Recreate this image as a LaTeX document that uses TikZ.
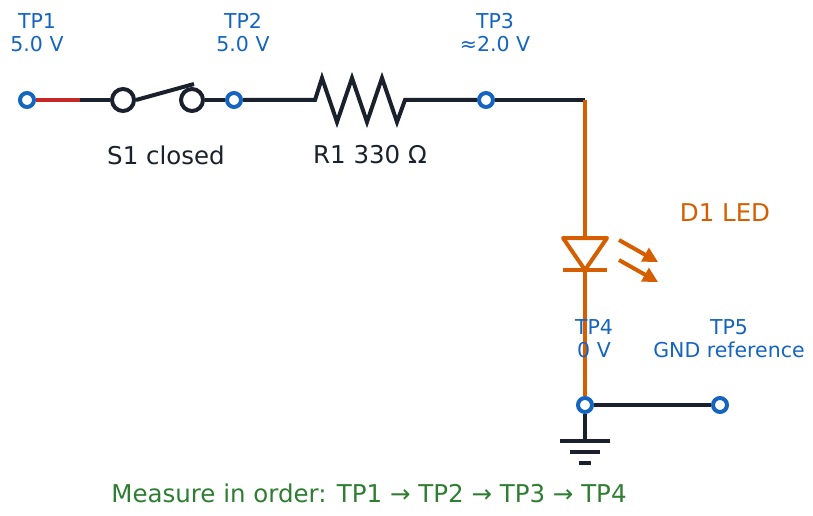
\documentclass[tikz,border=0pt]{standalone}
\usepackage{fontspec}
\setmainfont{DejaVu Sans}
\usetikzlibrary{arrows.meta}
\definecolor{tpblue}{RGB}{21,101,192}
\definecolor{wiredark}{RGB}{26,32,44}
\definecolor{ledorange}{RGB}{213,94,0}
\definecolor{wirered}{RGB}{198,40,40}
\definecolor{notegreen}{RGB}{46,125,50}
\tikzset{every picture/.style={line width=4pt}}
\tikzset{
  tp/.style={circle,draw=tpblue,fill=white,line width=4pt,inner sep=0pt,minimum size=14pt},
  tplabel/.style={text=tpblue,font=\fontsize{20.5}{23}\selectfont,align=center},
  wire/.style={draw=wiredark},
  led/.style={draw=ledorange}
}

\begin{document}
\begin{tikzpicture}[x=1pt,y=1pt,yscale=-1,xscale=1]
\useasboundingbox (0,0) rectangle (813,516);

%Test points
\node[tp] (tp1) at (27,100) {};
\node[tp] (tp2) at (234,100) {};
\node[tp] (tp3) at (486,100) {};
\node[tp] (tp4) at (585,405) {};
\node[tp] (tp5) at (720,405) {};
\coordinate (redend) at (80,100);
\coordinate (corner) at (585,100);
\coordinate (ledtop) at (585,238);
\coordinate (ledbot) at (585,270);
\coordinate (gnd) at (585,441);

%Switch
\node[circle,draw=wiredark,fill=white,inner sep=0pt,minimum size=22pt] (s1a) at (123,100) {};
\node[circle,draw=wiredark,fill=white,inner sep=0pt,minimum size=22pt] (s1b) at (192,100) {};

%Wires
\draw [wirered] (tp1) -- (redend) ;
\draw [wire] (redend) -- (s1a) ;
\draw [wire] (s1a.east) -- (194,84) ;
\draw [wire] (s1b) -- (tp2) ;
\draw [wire] (tp2) -- (315,100) -- (322,78) -- (337,122) -- (352,78) -- (367,122) -- (382,78) -- (397,122) -- (405,100) -- (tp3) ;
\draw [wire] (tp3) -- (corner) ;
\draw [wire] (tp4) -- (tp5) ;
\draw [wire] (tp4) -- (gnd) ;
\draw [wire] (560,441) -- (610,441) (570,452) -- (600,452) (579,463) -- (591,463) ;

%LED
\draw [led] (corner) -- (ledtop) ;
\draw [led,line join=round] (563,238) -- (607,238) -- (ledbot) -- cycle ;
\draw [led] (563,270) -- (607,270) ;
\draw [led] (ledbot) -- (tp4) ;
\draw [led,-{Triangle[length=15pt,width=15pt]}] (619,240) -- (658,262) ;
\draw [led,-{Triangle[length=15pt,width=15pt]}] (619,260) -- (658,282) ;

%Labels
\node[tplabel] at (37,33) {TP1\\5.0 V};
\node[tplabel] at (243,33) {TP2\\5.0 V};
\node[tplabel] at (495,33) {TP3\\≈2.0 V};
\node[tplabel] at (594,339) {TP4\\0 V};
\node[tplabel] at (729,339) {TP5\\GND reference};
\node[text=ledorange,font=\fontsize{24.5}{27}\selectfont] at (725,213) {D1 LED};
\node[text=wiredark,font=\fontsize{24.5}{27}\selectfont] at (166,155) {S1 closed};
\node[text=wiredark,font=\fontsize{24.5}{27}\selectfont] at (370,155) {R1 330 Ω};
\node[text=notegreen,font=\fontsize{24.5}{27}\selectfont] at (369,493) {Measure in order: TP1 → TP2 → TP3 → TP4};
\end{tikzpicture}
\end{document}
